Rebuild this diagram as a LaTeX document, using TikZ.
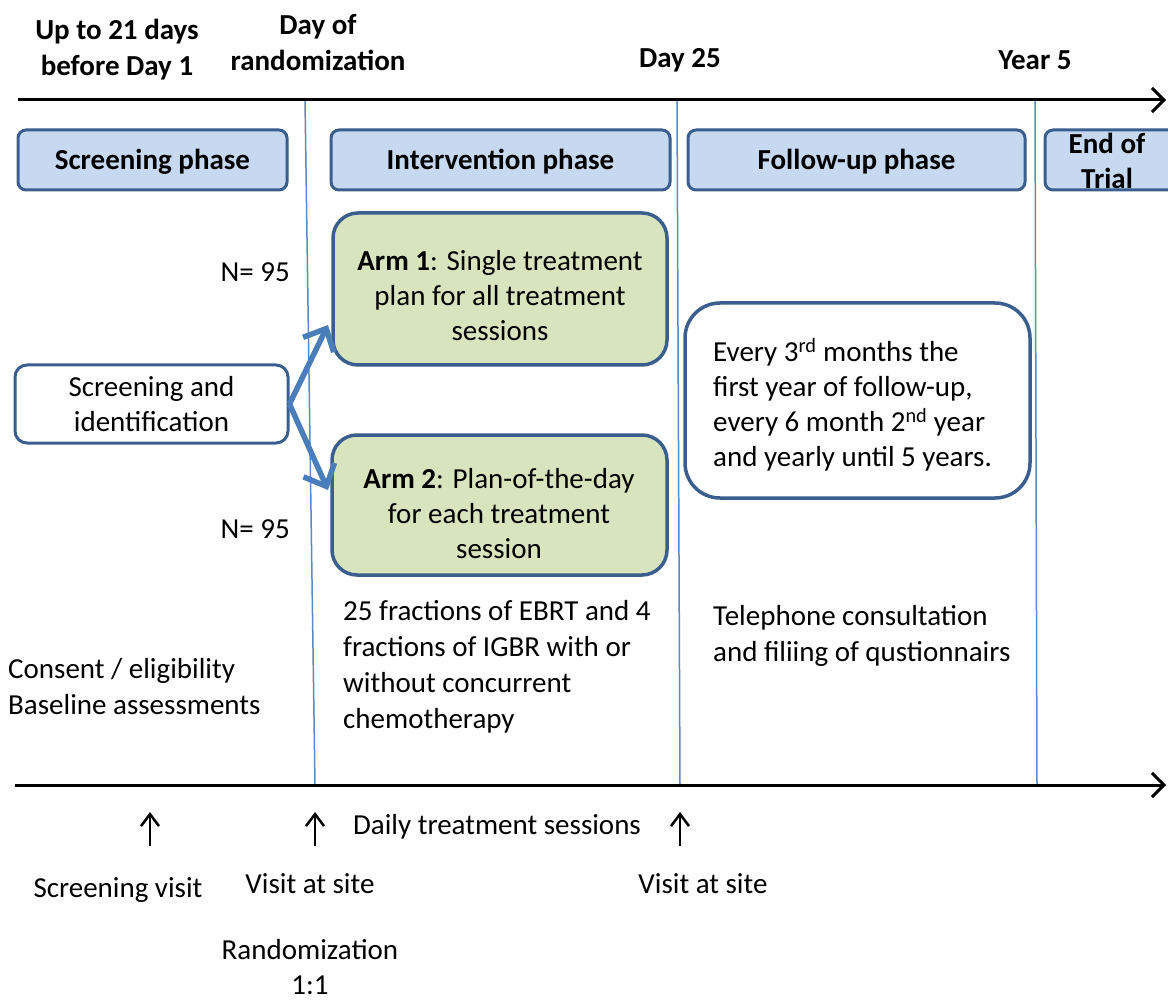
\documentclass[tikz,border=0pt]{standalone}
\usepackage{fontspec}
\setmainfont{Carlito}
\usetikzlibrary{arrows.meta}
\definecolor{bordblue}{HTML}{3A5F8E}
\definecolor{phasefill}{HTML}{C6D9F1}
\definecolor{armfill}{HTML}{D7E4BD}
\definecolor{arrowblue}{HTML}{4A7EBB}
\definecolor{vline}{HTML}{5A8AC6}
\begin{document}
\begin{tikzpicture}[x=1pt,y=-1pt,
  every node/.style={font=\fontsize{29}{35}\selectfont, inner sep=0pt},
  boldtxt/.style={font=\bfseries\fontsize{29}{36}\selectfont, align=center},
  phasebox/.style={draw=bordblue, line width=3pt, fill=phasefill, rounded corners=8pt,
     font=\bfseries\fontsize{29}{35}\selectfont, minimum height=60pt, text height=21pt, text depth=2pt},
  armbox/.style={draw=bordblue, line width=3.5pt, fill=armfill, rounded corners=25pt},
  whitebox/.style={draw=bordblue, line width=3pt, fill=white},
  axis/.style={line width=3pt, -{Straight Barb[length=12pt,width=24pt]}},
  divider/.style={vline, line width=1.5pt},
  splitarrow/.style={arrowblue, line width=5.5pt, -{Straight Barb[length=18pt,width=34pt]}},
  uparrow/.style={line width=2.5pt, -{Straight Barb[length=12pt,width=18pt]}}
]
\useasboundingbox (0,0) rectangle (1168,1000);
\fill[white] (0,0) rectangle (1168,1000);

% dividers
\coordinate (v1t) at (305,100); \coordinate (v1b) at (315,785);
\coordinate (v2t) at (677,100); \coordinate (v2b) at (680,785);
\coordinate (v3t) at (1035,100); \coordinate (v3b) at (1037,785);
\draw[divider] (v1t) -- (v1b);
\draw[divider] (v2t) -- (v2b);
\draw[divider] (v3t) -- (v3b);

% axes
\coordinate (ta0) at (18,100); \coordinate (ta1) at (1166,100);
\coordinate (ba0) at (15,785); \coordinate (ba1) at (1166,785);
\draw[axis] (ta0) -- (ta1);
\draw[axis] (ba0) -- (ba1);

% top labels
\node[boldtxt] (l1) at (117,50) {Up to 21 days\\before Day 1};
\node[boldtxt] (l2) at (318,43) {Day of\\randomization};
\node[boldtxt] (l3) at (680,60) {Day 25};
\node[boldtxt] (l4) at (1035,60) {Year 5};

% phase boxes
\node[phasebox, minimum width=269pt] (scrph) at (152.5,160) {Screening phase};
\node[phasebox, minimum width=339pt] (intph) at (500.5,160) {Intervention phase};
\node[phasebox, minimum width=337pt] (fuph) at (856.5,160) {Follow-up phase};
\node[phasebox, minimum width=134pt] (endph) at (1112,160) {};
\node[boldtxt, font=\bfseries\fontsize{29}{35}\selectfont] (endtxt) at (1107,161) {End of\\Trial};

% arms
\node[armbox, minimum width=334pt, minimum height=152pt] (arm1) at (500,289) {};
\node[align=center] (arm1txt) at (500,296)
  {\textbf{Arm 1}: Single treatment\\plan for all treatment\\sessions};
\node[armbox, minimum width=335pt, minimum height=140pt] (arm2) at (499.5,505) {};
\node[align=center] (arm2txt) at (499,514)
  {\textbf{Arm 2}: Plan-of-the-day\\for each treatment\\session};

\node[whitebox, rounded corners=12pt, minimum width=273pt, minimum height=78pt, align=center]
  (scr) at (151.5,404) {Screening and\\identification};

\coordinate (a1tip) at (328,325);
\coordinate (a2tip) at (328,490);
\draw[splitarrow] (scr.east) -- (a1tip);
\draw[splitarrow] (scr.east) -- (a2tip);

\node[anchor=east] (n1) at (290,272) {N= 95};
\node[anchor=east] (n2) at (290,529) {N= 95};

\node[whitebox, line width=3.5pt, rounded corners=35pt, minimum width=345pt, minimum height=195pt]
  (fu) at (857.5,400.5) {};
\node[anchor=west, align=left] (futxt) at (713,405)
  {Every 3\textsuperscript{rd} months the\\first year of follow-up,\\every 6 month 2\textsuperscript{nd} year\\and yearly until 5 years.};

% descriptive texts
\node[anchor=west, align=left, font=\fontsize{29}{36}\selectfont] (ebrt) at (343,667)
  {25 fractions of EBRT and 4\\fractions of IGBR with or\\without concurrent\\chemotherapy};
\node[anchor=west, align=left, font=\fontsize{29}{36}\selectfont] (tel) at (713,636)
  {Telephone consultation\\and filiing of qustionnairs};
\node[anchor=west, align=left, font=\fontsize{29}{36}\selectfont] (cons) at (8,687)
  {Consent / eligibility\\Baseline assessments};

% up arrows
\coordinate (u1b) at (150,846); \coordinate (u1t) at (150,812);
\coordinate (u2b) at (315,846); \coordinate (u2t) at (315,812);
\coordinate (u3b) at (680,846); \coordinate (u3t) at (680,812);
\draw[uparrow] (u1b) -- (u1t);
\draw[uparrow] (u2b) -- (u2t);
\draw[uparrow] (u3b) -- (u3t);

\node (daily) at (497,827) {Daily treatment sessions};
\node (sv) at (118,890) {Screening visit};
\node (vs1) at (310,884) {Visit at site};
\node (vs2) at (703,884) {Visit at site};
\node[align=center] (rand) at (310,967) {Randomization\\1:1};
\end{tikzpicture}
\end{document}
